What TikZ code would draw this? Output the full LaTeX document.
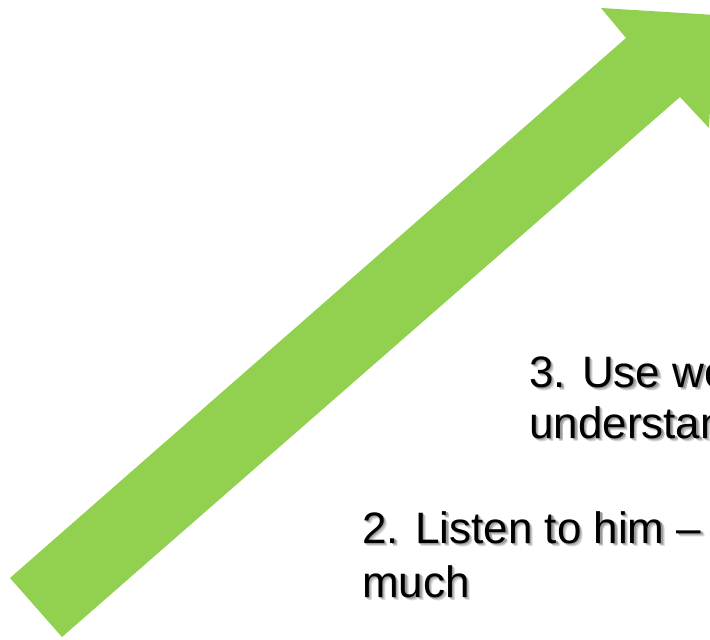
\documentclass[tikz,border=0pt]{standalone}
\usepackage{fontspec}
\setmainfont{Liberation Sans}
\definecolor{arrowgreen}{HTML}{92D050}
\newcommand\shadowedtext[1]{%
  \makebox[0pt][l]{\kern3.2pt\raisebox{-3.2pt}{\color{black!14}#1}}%
  \makebox[0pt][l]{\kern2.4pt\raisebox{-2.4pt}{\color{black!26}#1}}%
  \makebox[0pt][l]{\kern1.5pt\raisebox{-1.5pt}{\color{black!40}#1}}%
  #1}
\tikzset{
  bigtext/.style={anchor=base west, inner sep=0pt, font=\fontsize{44}{53}\selectfont, text=black},
  arrowfill/.style={fill=arrowgreen, draw=none}
}
\begin{document}
\begin{tikzpicture}[x=1pt,y=-1pt]
\useasboundingbox (0,0) rectangle (710,640);
\clip (0,0) rectangle (710,640);
\fill[white] (0,0) rectangle (710,640);
% big green arrow
\path[arrowfill] (10,578) -- (626,38) -- (601,8) -- (715,15) -- (709,128) -- (680,97) -- (62,637) -- cycle;
% texts
\node[bigtext] (t3a) at (529,387) {\shadowedtext{3. Use words}};
\node[bigtext] (t3b) at (529,438) {\shadowedtext{understand}};
\node[bigtext] (t2a) at (362,543) {\shadowedtext{2. Listen to him – let}};
\node[bigtext] (t2b) at (362,597) {\shadowedtext{much}};
\end{tikzpicture}
\end{document}
